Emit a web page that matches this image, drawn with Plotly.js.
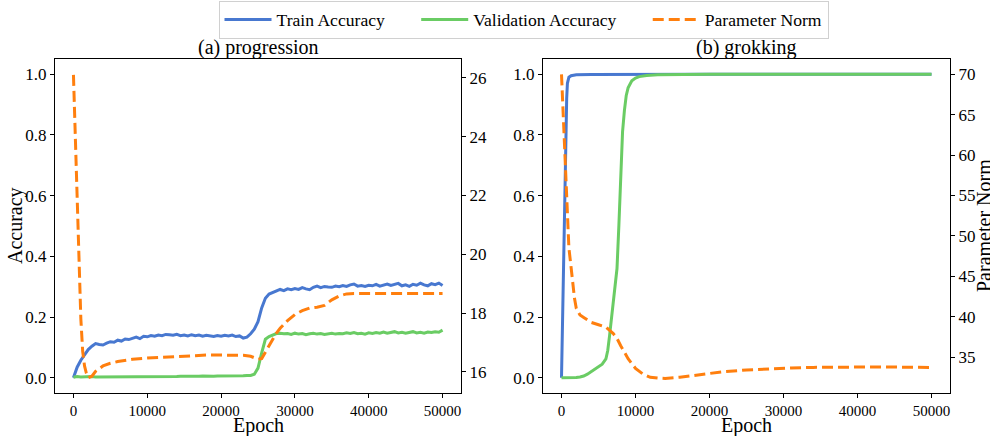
<!DOCTYPE html>
<html>
<head>
<meta charset="utf-8">
<script src="https://cdn.plot.ly/plotly-3.0.1.min.js"></script>
<style>html,body{margin:0;padding:0;background:#fff;}#chart{width:990px;height:436px;}</style>
</head>
<body>
<div id="chart"></div>
<script>
// ---------- (a) progression ----------
const progEpochs = [];
for (let e = 0; e <= 50000; e += 500) progEpochs.push(e);
const progTrainAcc = [
  0.000,0.035,0.058,0.077,0.093,0.104,0.113,0.110,0.108,0.114,
  0.119,0.117,0.124,0.121,0.128,0.126,0.131,0.134,0.129,0.137,
  0.135,0.139,0.137,0.141,0.139,0.143,0.142,0.140,0.143,0.139,
  0.141,0.138,0.142,0.139,0.141,0.137,0.140,0.138,0.136,0.139,
  0.137,0.140,0.138,0.141,0.136,0.138,0.131,0.134,0.145,0.160,
  0.185,0.230,0.262,0.276,0.281,0.286,0.291,0.287,0.293,0.290,
  0.294,0.291,0.297,0.293,0.290,0.298,0.302,0.297,0.301,0.299,
  0.298,0.302,0.300,0.304,0.301,0.306,0.309,0.302,0.304,0.301,
  0.305,0.303,0.308,0.302,0.306,0.309,0.304,0.307,0.311,0.303,
  0.306,0.301,0.308,0.305,0.312,0.306,0.303,0.310,0.307,0.312,
  0.304
];
const progValAcc = [
  0.002,0.004,0.003,0.004,0.003,0.004,0.003,0.003,0.004,0.003,
  0.003,0.002,0.003,0.002,0.003,0.002,0.002,0.003,0.002,0.002,
  0.002,0.003,0.002,0.003,0.003,0.004,0.003,0.004,0.004,0.005,
  0.004,0.005,0.005,0.004,0.005,0.006,0.005,0.006,0.005,0.006,
  0.006,0.005,0.006,0.007,0.006,0.007,0.007,0.008,0.008,0.012,
  0.032,0.082,0.127,0.136,0.141,0.146,0.147,0.145,0.146,0.143,
  0.147,0.144,0.146,0.142,0.145,0.147,0.144,0.146,0.143,0.145,
  0.147,0.144,0.146,0.145,0.148,0.146,0.149,0.145,0.147,0.144,
  0.148,0.146,0.149,0.147,0.151,0.147,0.149,0.152,0.148,0.150,
  0.147,0.149,0.152,0.148,0.150,0.147,0.151,0.149,0.152,0.150,
  0.157
];
const progNormEpochs = [0,250,500,750,1000,1250,1500,1750,2000,2500,3000,4000,5000,6000,7000,8000,
  10000,12000,14000,16000,18000,20000,22000,23000,24000,24500,25000,25500,26000,26500,27000,27500,
  28000,29000,30000,31000,32000,33000,34000,35000,36000,37000,38000,40000,42000,44000,46000,48000,50000];
const progNorm = [26.1,24.0,21.9,19.8,17.8,16.7,16.2,15.95,15.8,15.85,16.02,16.2,16.29,16.35,16.4,16.43,
  16.47,16.5,16.53,16.56,16.57,16.57,16.57,16.56,16.53,16.49,16.43,16.45,16.68,16.9,17.12,17.32,
  17.48,17.74,17.95,18.08,18.17,18.2,18.26,18.45,18.58,18.65,18.66,18.66,18.65,18.66,18.66,18.66,18.66];

// ---------- (b) grokking ----------
const grokTrainEpochs = [0,100,200,300,400,500,600,700,800,1000,1300,2000,4000,10000,20000,30000,40000,50000];
const grokTrainAcc = [0,0.14,0.29,0.43,0.57,0.71,0.83,0.92,0.97,0.99,0.995,0.998,0.999,1.0,1.0,1.0,1.0,1.0];
const grokValEpochs = [0,1000,2000,2500,3000,3500,4000,4500,5000,5500,6000,6250,6500,6750,7000,7250,7500,7750,
  8000,8250,8500,8750,9000,9500,10000,10500,11500,13000,20000,30000,40000,50000];
const grokValAcc = [0,0,0.001,0.003,0.006,0.012,0.02,0.03,0.036,0.045,0.062,0.09,0.14,0.2,0.25,0.3,0.36,0.5,
  0.68,0.81,0.88,0.93,0.955,0.978,0.987,0.992,0.996,0.998,1.0,1.0,1.0,1.0];
const grokNormEpochs = [0,250,500,750,1000,1250,1500,1750,2000,2500,3000,4000,5000,6000,7000,7500,8000,8500,
  9000,9500,10000,11000,12000,13000,14000,16000,18000,20000,22000,25000,28000,31000,34000,37000,40000,43000,46000,50000];
const grokNorm = [70,65,60,54,48.5,46.5,44.3,42.3,41.0,40.2,39.9,39.3,39.0,38.7,37.9,37.3,36.4,35.5,
  34.8,34.2,33.6,32.9,32.5,32.4,32.35,32.5,32.75,33.0,33.2,33.4,33.55,33.65,33.72,33.77,33.8,33.78,33.75,33.7];

const xTicks = [0,10000,20000,30000,40000,50000];
const accTicks = [0,0.2,0.4,0.6,0.8,1.0];
const progNormTicks = [16,18,20,22,24,26];
const grokNormTicks = [35,40,45,50,55,60,65,70];

const BLUE = '#4878d0', GREEN = '#6acc64', ORANGE = '#ff7f0e';
const FONT = 'Liberation Serif, Times New Roman, serif';
const PAD = '\u00a0\u00a0\u00a0\u00a0\u00a0\u00a0';
const LW = 3;
const DASH = '11px,5px';

const traces = [
  {x: progEpochs, y: progTrainAcc, xaxis:'x', yaxis:'y', name:'Train Accuracy' + PAD, mode:'lines',
   line:{color:BLUE, width:LW}},
  {x: progEpochs, y: progValAcc, xaxis:'x', yaxis:'y', name:'Validation Accuracy' + PAD, mode:'lines',
   line:{color:GREEN, width:LW}},
  {x: progNormEpochs, y: progNorm, xaxis:'x', yaxis:'y2', name:'Parameter Norm', mode:'lines',
   line:{color:ORANGE, width:LW, dash:DASH}},
  {x: grokTrainEpochs, y: grokTrainAcc, xaxis:'x2', yaxis:'y3', name:'Train Accuracy', mode:'lines',
   line:{color:BLUE, width:LW}, showlegend:false},
  {x: grokValEpochs, y: grokValAcc, xaxis:'x2', yaxis:'y3', name:'Validation Accuracy', mode:'lines',
   line:{color:GREEN, width:LW}, showlegend:false},
  {x: grokNormEpochs, y: grokNorm, xaxis:'x2', yaxis:'y4', name:'Parameter Norm', mode:'lines',
   line:{color:ORANGE, width:LW, dash:DASH}, showlegend:false}
];

const H = 436, W = 990;
const yDom = [1 - 393/H, 1 - 59/H];
const common = {showgrid:false, zeroline:false, showline:true, linecolor:'#000', linewidth:1,
  ticks:'outside', ticklen:4, tickwidth:1, tickcolor:'#000', automargin:false,
  tickfont:{family:FONT, size:15, color:'#000'}};
const yTickFont = {family:FONT, size:17, color:'#000'};

function txt(text, xpx, ypx, angle) {
  return {text:text, xref:'paper', yref:'paper', x:xpx/W, y:1 - ypx/H, xanchor:'center', yanchor:'middle',
    showarrow:false, textangle:angle || 0, font:{family:FONT, size:20, color:'#000'}};
}

const layout = {
  width: W, height: H,
  margin: {l:0, r:0, t:0, b:0},
  paper_bgcolor:'#fff', plot_bgcolor:'#fff',
  font: {family: FONT, color:'#000'},
  showlegend: true,
  legend: {orientation:'h', x:218.5/W, xanchor:'left', y:1 - 0.5/H, yanchor:'top',
    bordercolor:'#d0d0d0', borderwidth:1, bgcolor:'#fff',
    font:{family:FONT, size:17.6, color:'#000'}, itemwidth:47, traceorder:'normal'},
  xaxis: Object.assign({}, common, {domain:[55/W, 461/W], anchor:'y', range:[-2500,52500],
    tickvals:xTicks, tickformat:'d', mirror:true}),
  yaxis: Object.assign({}, common, {domain:yDom, anchor:'x', range:[-0.05,1.05],
    tickvals:accTicks, tickformat:'.1f', mirror:true, tickfont:yTickFont}),
  yaxis2: Object.assign({}, common, {overlaying:'y', side:'right', anchor:'x', range:[15.28,26.64],
    tickvals:progNormTicks, tickfont:yTickFont}),
  xaxis2: Object.assign({}, common, {domain:[543/W, 950/W], anchor:'y3', range:[-2500,52500],
    tickvals:xTicks, tickformat:'d', mirror:true}),
  yaxis3: Object.assign({}, common, {domain:yDom, anchor:'x2', range:[-0.05,1.05],
    tickvals:accTicks, tickformat:'.1f', mirror:true, tickfont:yTickFont}),
  yaxis4: Object.assign({}, common, {overlaying:'y3', side:'right', anchor:'x2', range:[30.55,71.9],
    tickvals:grokNormTicks, tickfont:yTickFont}),
  annotations: [
    txt('(a) progression', 258, 47.6),
    txt('(b) grokking', 746.5, 47.6),
    txt('Epoch', 258, 425),
    txt('Epoch', 746.5, 425),
    txt('Accuracy', 15, 226, -90),
    txt('Parameter Norm', 984, 226, -90)
  ]
};

Plotly.newPlot('chart', traces, layout, {displayModeBar:false, staticPlot:true});
</script>
</body>
</html>
